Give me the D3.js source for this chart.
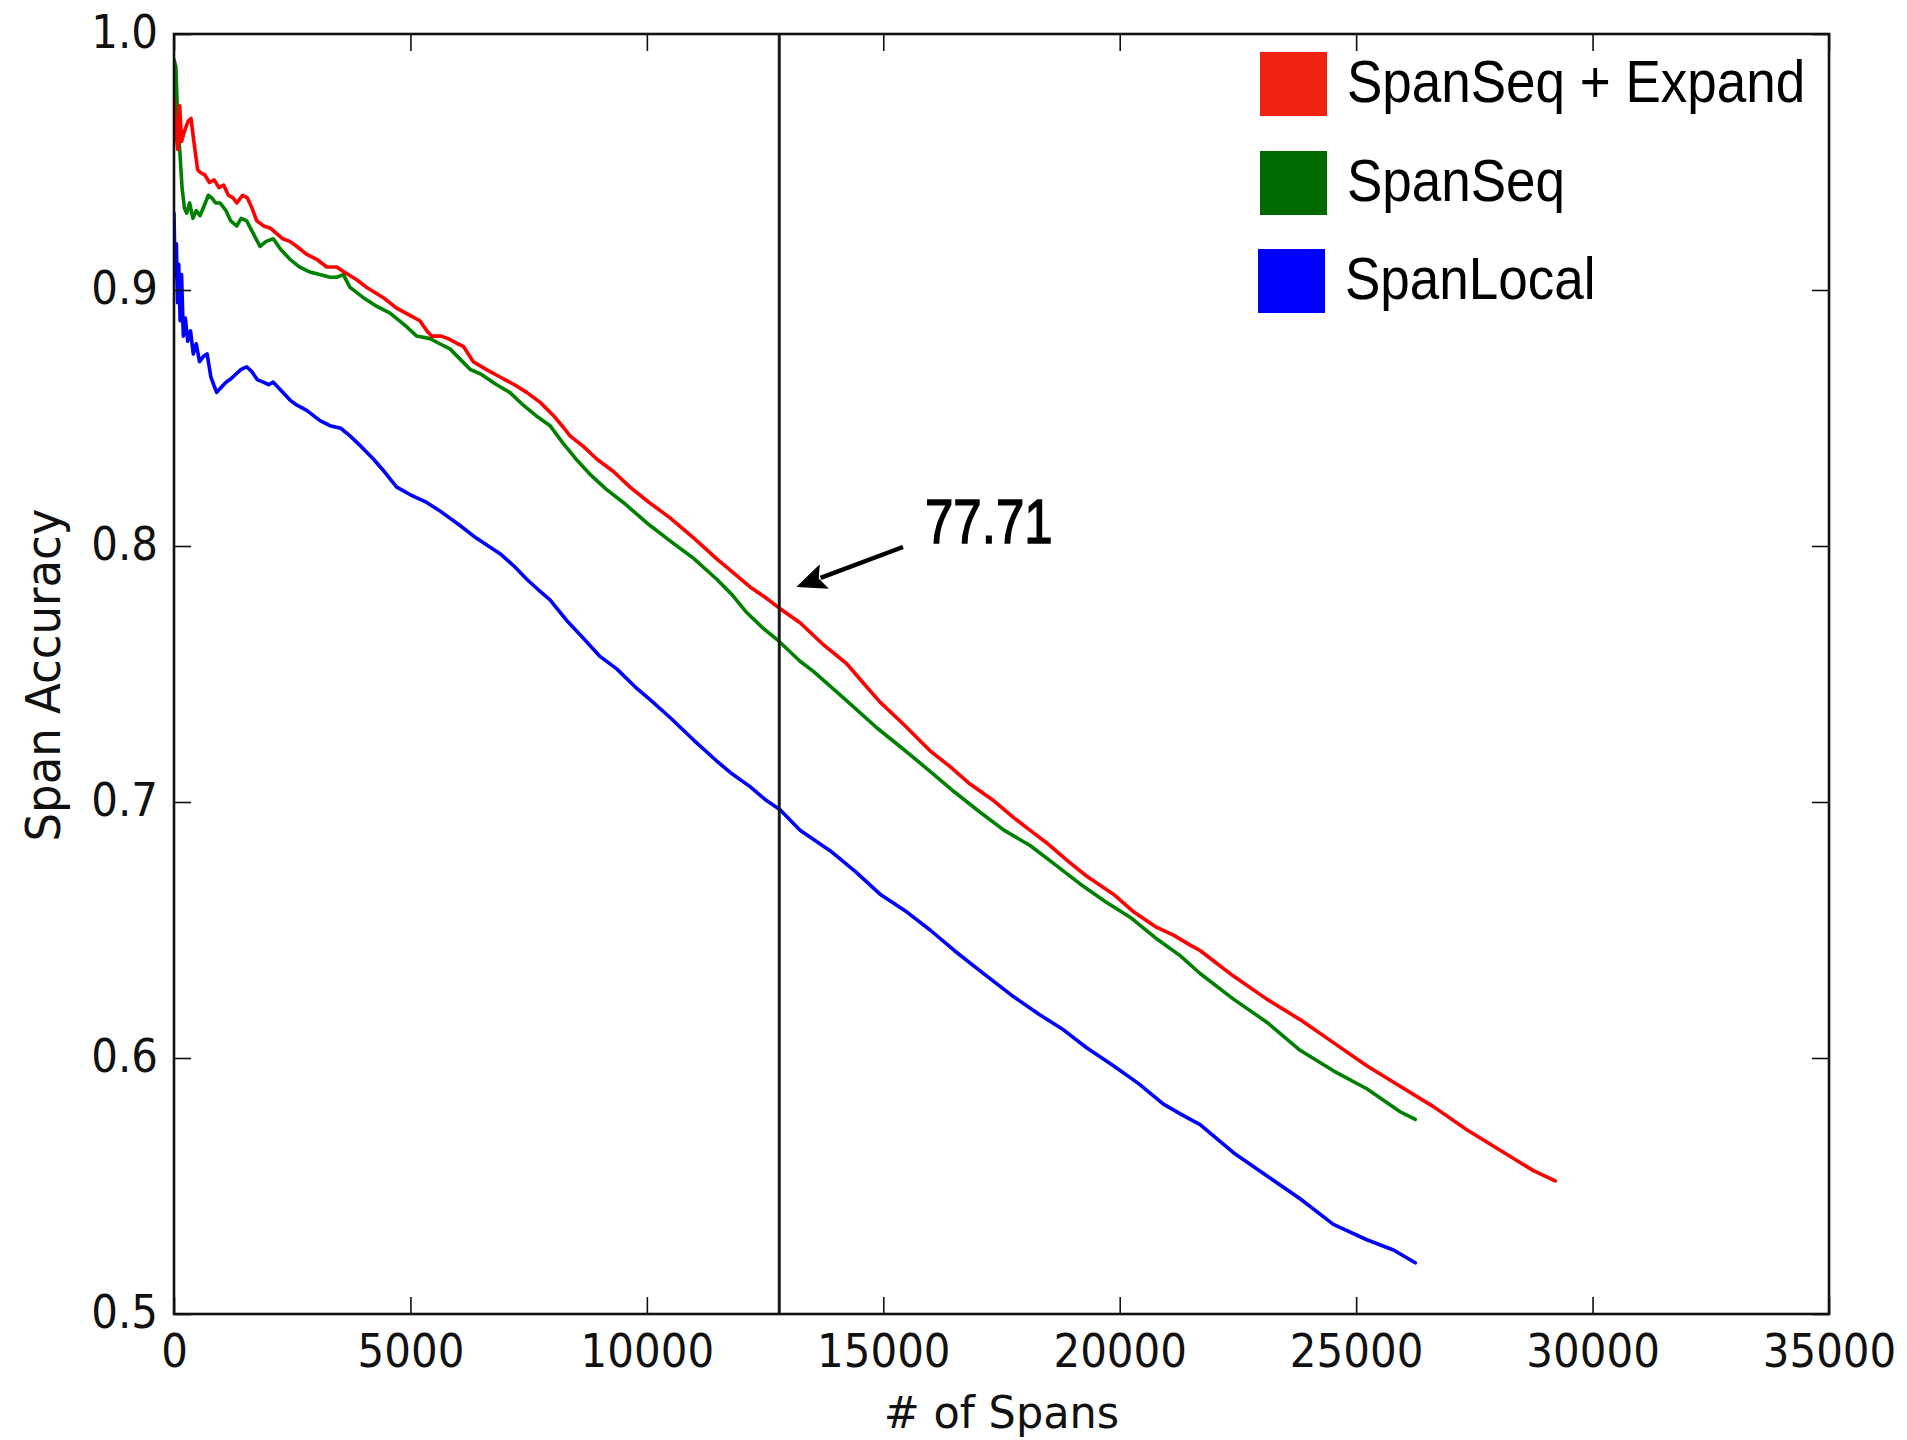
<!DOCTYPE html>
<html>
<head>
<meta charset="utf-8">
<script src="https://cdn.jsdelivr.net/npm/d3@7"></script>
<style>
  html, body { margin: 0; padding: 0; background: #fff; }
  svg { display: block; }
</style>
</head>
<body>
<svg id="chart" width="1907" height="1440"></svg>
<script>
// ---------------- DATA ----------------
const seriesNames = ["SpanSeq + Expand", "SpanSeq", "SpanLocal"];
const xTickValues = [0, 5000, 10000, 15000, 20000, 25000, 30000, 35000];
const yTickValues = [0.5, 0.6, 0.7, 0.8, 0.9, 1.0];
const xLabel = "# of Spans";
const yLabel = "Span Accuracy";
const markerX = 12800;
const markerLabel = "77.71";

// SpanSeq + Expand  [# of spans, accuracy]
const spanSeqExpand = [
  [0,0.975],[40,0.962],[80,0.955],[120,0.972],[160,0.958],[220,0.962],[300,0.966],[360,0.967],
  [420,0.958],[500,0.947],[550,0.946],[650,0.945],[750,0.942],[850,0.943],[950,0.940],[1050,0.941],
  [1150,0.937],[1250,0.936],[1330,0.934],[1450,0.937],[1550,0.936],[1650,0.932],[1750,0.927],
  [1900,0.925],[2050,0.924],[2172,0.922],[2300,0.920],[2450,0.919],[2600,0.917],[2800,0.914],
  [3018,0.912],[3230,0.909],[3441,0.909],[3600,0.907],[3864,0.904],[4075,0.901],[4250,0.899],
  [4427,0.897],[4700,0.893],[5000,0.890],[5200,0.888],[5350,0.884],[5450,0.882],[5650,0.882],
  [5800,0.881],[6000,0.879],[6119,0.878],[6330,0.872],[6600,0.869],[6895,0.866],[7200,0.863],
  [7460,0.860],[7750,0.856],[8022,0.851],[8250,0.846],[8375,0.843],[8650,0.839],[8940,0.834],
  [9300,0.829],[9644,0.823],[10050,0.817],[10490,0.811],[11000,0.803],[11478,0.795],[11800,0.790],
  [12182,0.784],[12500,0.780],[12781,0.776],[13240,0.770],[13700,0.762],[14227,0.754],[14600,0.746],
  [14932,0.739],[15450,0.730],[15990,0.720],[16400,0.714],[16835,0.707],[17300,0.701],[17752,0.694],
  [18100,0.689],[18458,0.684],[18900,0.677],[19304,0.671],[19867,0.664],[20300,0.657],[20784,0.651],
  [21137,0.648],[21500,0.644],[21700,0.642],[22050,0.637],[22405,0.632],[23110,0.623],[23815,0.615],
  [24519,0.606],[25225,0.597],[25930,0.589],[26634,0.581],[27341,0.572],[28045,0.564],[28749,0.556],
  [29210,0.552]
];

// SpanSeq
const spanSeq = [
  [0,0.990],[40,0.987],[80,0.965],[127,0.953],[170,0.940],[220,0.932],[268,0.930],[330,0.934],
  [400,0.928],[470,0.931],[550,0.929],[640,0.933],[726,0.937],[800,0.936],[880,0.934],[973,0.934],
  [1100,0.931],[1200,0.927],[1326,0.925],[1420,0.928],[1537,0.927],[1650,0.923],[1819,0.917],
  [1950,0.919],[2100,0.920],[2250,0.916],[2453,0.912],[2650,0.909],[2876,0.907],[3100,0.906],
  [3300,0.905],[3441,0.905],[3582,0.906],[3722,0.901],[4005,0.897],[4250,0.894],[4568,0.891],
  [4900,0.886],[5133,0.882],[5414,0.881],[5620,0.879],[5837,0.877],[6050,0.873],[6260,0.869],
  [6500,0.867],[6825,0.863],[7100,0.860],[7388,0.855],[7650,0.851],[7952,0.847],[8234,0.840],
  [8500,0.834],[8798,0.828],[9150,0.822],[9503,0.817],[10000,0.809],[10490,0.802],[11000,0.795],
  [11478,0.787],[11800,0.781],[12112,0.774],[12450,0.768],[12781,0.763],[13240,0.755],[13522,0.751],
  [14200,0.740],[14862,0.729],[15400,0.721],[15990,0.712],[16500,0.704],[17047,0.696],[17550,0.689],
  [18104,0.683],[18600,0.676],[19162,0.668],[19700,0.661],[20219,0.655],[20750,0.647],[21277,0.640],
  [21700,0.633],[22405,0.623],[23110,0.614],[23815,0.603],[24519,0.595],[25225,0.588],[25930,0.579],
  [26250,0.576]
];

// SpanLocal
const spanLocal = [
  [0,0.930],[25,0.905],[50,0.918],[75,0.895],[100,0.910],[130,0.888],[160,0.906],[197,0.882],
  [240,0.889],[290,0.880],[350,0.884],[408,0.875],[470,0.879],[540,0.872],[620,0.874],[700,0.875],
  [780,0.866],[860,0.862],[903,0.860],[1000,0.862],[1100,0.864],[1184,0.865],[1300,0.867],
  [1420,0.869],[1537,0.870],[1650,0.868],[1760,0.865],[1889,0.864],[2000,0.863],[2100,0.864],
  [2250,0.861],[2453,0.857],[2600,0.855],[2806,0.853],[3088,0.849],[3300,0.847],[3526,0.846],
  [3722,0.843],[3950,0.839],[4216,0.834],[4450,0.829],[4710,0.823],[5000,0.820],[5344,0.817],
  [5600,0.814],[6049,0.808],[6400,0.803],[6895,0.797],[7200,0.792],[7460,0.787],[7700,0.783],
  [7952,0.779],[8300,0.771],[8657,0.764],[9000,0.757],[9363,0.752],[9750,0.745],[10068,0.740],
  [10490,0.733],[11000,0.724],[11478,0.716],[11800,0.711],[12182,0.706],[12500,0.701],[12817,0.697],
  [13240,0.689],[13875,0.681],[14400,0.673],[14932,0.664],[15500,0.657],[15990,0.650],[16500,0.642],
  [17047,0.634],[17752,0.624],[18300,0.617],[18810,0.611],[19300,0.604],[19867,0.597],[20400,0.590],
  [20925,0.582],[21300,0.578],[21700,0.574],[22405,0.563],[23110,0.554],[23815,0.545],[24519,0.535],
  [25225,0.529],[25790,0.525],[26250,0.520]
];

const lineColors = ["#ff0000", "#008000", "#0000ff"];
const legendColors = ["#ee2312", "#006a00", "#0000ff"];

// ---------------- LAYOUT ----------------
const svg = d3.select("#chart");
const L = 174, R = 1829, T = 34, B = 1314;
const x = d3.scaleLinear().domain([0, 35000]).range([L, R]);
const y = d3.scaleLinear().domain([0.5, 1.0]).range([B, T]);

const tickFont = "'DejaVu Sans', sans-serif";
const tickSize = 42, tickStretch = 1.08;
const textColor = "#111";

// clip
svg.append("clipPath").attr("id", "plotclip")
  .append("rect").attr("x", L).attr("y", T).attr("width", R - L).attr("height", B - T);

// lines
const line = d3.line().x(d => x(d[0])).y(d => y(d[1]));
const allSeries = [spanSeqExpand, spanSeq, spanLocal];
const drawOrder = [2, 1, 0];
const lg = svg.append("g").attr("clip-path", "url(#plotclip)");
drawOrder.forEach(i => {
  lg.append("path").datum(allSeries[i])
    .attr("d", line)
    .attr("fill", "none")
    .attr("stroke", lineColors[i])
    .attr("stroke-width", 3.6)
    .attr("stroke-linejoin", "round")
    .attr("stroke-linecap", "round");
});

// vertical marker
svg.append("line")
  .attr("x1", x(markerX)).attr("x2", x(markerX))
  .attr("y1", y(1.0)).attr("y2", y(0.5))
  .attr("stroke", "#1a1a1a").attr("stroke-width", 3);

// axes (ticks inward on all sides)
function styleAxis(g) {
  g.select(".domain").remove();
  g.selectAll(".tick line").attr("stroke", "#111").attr("stroke-width", 1.6);
}
const gB = svg.append("g").attr("transform", `translate(0,${B})`)
  .call(d3.axisBottom(x).tickValues(xTickValues).tickSize(-17).tickFormat(d3.format("d")));
styleAxis(gB);
gB.selectAll(".tick text")
  .attr("y", null).attr("dy", null)
  .attr("transform", `translate(0,53) scale(1,${tickStretch})`)
  .attr("font-family", tickFont).attr("font-size", tickSize).attr("fill", textColor);

const gT = svg.append("g").attr("transform", `translate(0,${T})`)
  .call(d3.axisTop(x).tickValues(xTickValues).tickSize(-17).tickFormat(""));
styleAxis(gT);

const gL = svg.append("g").attr("transform", `translate(${L},0)`)
  .call(d3.axisLeft(y).tickValues(yTickValues).tickSize(-17).tickFormat(d3.format(".1f")));
styleAxis(gL);
gL.selectAll(".tick text")
  .attr("x", null).attr("dy", null)
  .attr("text-anchor", "end")
  .attr("transform", `translate(-16,13) scale(1,${tickStretch})`)
  .attr("font-family", tickFont).attr("font-size", tickSize).attr("fill", textColor);

const gR = svg.append("g").attr("transform", `translate(${R},0)`)
  .call(d3.axisRight(y).tickValues(yTickValues).tickSize(-17).tickFormat(""));
styleAxis(gR);

// frame
svg.append("rect").attr("x", L).attr("y", T).attr("width", R - L).attr("height", B - T)
  .attr("fill", "none").attr("stroke", "#111").attr("stroke-width", 2.6);

// axis labels
svg.append("text")
  .attr("transform", `translate(${(L + R) / 2},1428) scale(1,1.05)`)
  .attr("text-anchor", "middle")
  .attr("font-family", tickFont).attr("font-size", 43).attr("fill", textColor)
  .text(xLabel);
svg.append("text")
  .attr("transform", `translate(60,${(T + B) / 2 + 1}) rotate(-90) scale(1,1.08)`)
  .attr("text-anchor", "middle")
  .attr("font-family", tickFont).attr("font-size", 45).attr("fill", textColor)
  .text(yLabel);

// legend
const legendFont = "'Liberation Sans', Arial, sans-serif";
const legendRowsY = [84, 183, 281];
seriesNames.forEach((name, i) => {
  const cy = legendRowsY[i];
  svg.append("rect")
    .attr("x", i === 2 ? 1258 : 1260).attr("y", cy - 32)
    .attr("width", 67).attr("height", 64)
    .attr("fill", legendColors[i]);
  svg.append("text")
    .attr("transform", `translate(${i === 2 ? 1345 : 1347},${cy + 18}) scale(1,1.13)`)
    .attr("font-family", legendFont).attr("font-size", 53).attr("fill", "#000")
    .text(name);
});

// annotation
svg.append("text")
  .attr("transform", "translate(925,543) scale(1,1.25)")
  .attr("font-family", legendFont).attr("font-size", 51)
  .attr("fill", "#000").attr("stroke", "#000").attr("stroke-width", 1.2)
  .text(markerLabel);

// arrow
const arrowStart = [903, 547];
const arrowTip = [x(markerX) + 17, 587];
const ang = Math.atan2(arrowTip[1] - arrowStart[1], arrowTip[0] - arrowStart[0]);
const headLen = 30, headW = 13;
const baseX = arrowTip[0] - headLen * Math.cos(ang), baseY = arrowTip[1] - headLen * Math.sin(ang);
svg.append("line")
  .attr("x1", arrowStart[0]).attr("y1", arrowStart[1])
  .attr("x2", baseX + 4 * Math.cos(ang)).attr("y2", baseY + 4 * Math.sin(ang))
  .attr("stroke", "#000").attr("stroke-width", 4.5);
svg.append("path")
  .attr("d", d3.line()([
    arrowTip,
    [baseX + headW * Math.sin(ang), baseY - headW * Math.cos(ang)],
    [baseX + 6 * Math.cos(ang), baseY + 6 * Math.sin(ang)],
    [baseX - headW * Math.sin(ang), baseY + headW * Math.cos(ang)]
  ]) + "Z")
  .attr("fill", "#000");
</script>
</body>
</html>
